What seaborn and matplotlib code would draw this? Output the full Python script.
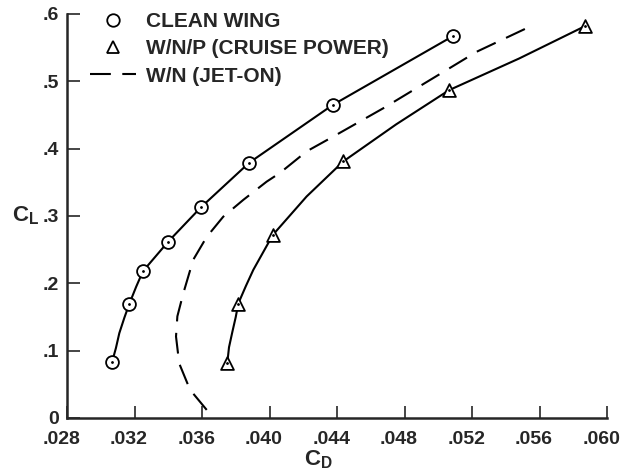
import numpy as np
import pandas as pd
import seaborn as sns
import matplotlib.pyplot as plt
import matplotlib.transforms as mtransforms
from matplotlib.lines import Line2D

# clean wing (circles) - symbol positions
clean_cd = [0.03067, 0.0317, 0.0325, 0.0340, 0.03594, 0.03879, 0.04375, 0.05086]
clean_cl = [0.083, 0.170, 0.218, 0.262, 0.313, 0.379, 0.465, 0.567]
# faired curve through them
clean_path_cd = [0.03067, 0.0309, 0.0311, 0.0314, 0.0317, 0.0321, 0.0325, 0.0340,
                 0.03594, 0.03879, 0.04375, 0.05086]
clean_path_cl = [0.083, 0.104, 0.126, 0.149, 0.170, 0.195, 0.218, 0.262,
                 0.313, 0.379, 0.465, 0.567]

# W/N/P cruise power (triangles)
wnp_cd = [0.0375, 0.03815, 0.0402, 0.04437, 0.05065, 0.0587]
wnp_cl = [0.082, 0.170, 0.272, 0.381, 0.487, 0.582]
wnp_path_cd = [0.0375, 0.0376, 0.0378, 0.0380, 0.03815, 0.0386, 0.03904, 0.0402,
               0.0422, 0.04437, 0.0475, 0.05065, 0.0548, 0.0587]
wnp_path_cl = [0.082, 0.105, 0.128, 0.150, 0.170, 0.196, 0.220, 0.272,
               0.329, 0.381, 0.436, 0.487, 0.534, 0.582]

# W/N jet-on (dashed, no symbols)
jet_cd = [0.03628, 0.03529, 0.03465, 0.03446, 0.03454, 0.03489, 0.03548, 0.03628,
          0.03726, 0.03845, 0.03983, 0.04062, 0.0422, 0.04378, 0.04674, 0.04991,
          0.05228, 0.05524]
jet_cl = [0.012, 0.042, 0.081, 0.121, 0.151, 0.185, 0.235, 0.269,
          0.299, 0.324, 0.351, 0.364, 0.396, 0.418, 0.460, 0.508,
          0.544, 0.579]

x_ticks = [0.028, 0.032, 0.036, 0.040, 0.044, 0.048, 0.052, 0.056, 0.060]
x_labels = [".028", ".032", ".036", ".040", ".044", ".048", ".052", ".056", ".060"]
y_ticks = [0, 0.1, 0.2, 0.3, 0.4, 0.5, 0.6]
y_labels = ["0", ".1", ".2", ".3", ".4", ".5", ".6"]

sns.set_style("ticks")
plt.rcParams['font.family'] = ['Liberation Sans', 'DejaVu Sans']
plt.rcParams['font.weight'] = 'bold'
plt.rcParams['mathtext.fontset'] = 'custom'
plt.rcParams['mathtext.rm'] = 'Liberation Sans:bold'
plt.rcParams['mathtext.it'] = 'Liberation Sans:bold'

fig = plt.figure(figsize=(6.24, 4.75), dpi=100)
ax = fig.add_axes([67 / 624, 57 / 475, 540 / 624, 404 / 475])

clean_line = pd.DataFrame({"cd": clean_path_cd, "cl": clean_path_cl})
wnp_line = pd.DataFrame({"cd": wnp_path_cd, "cl": wnp_path_cl})
clean_pts = pd.DataFrame({"cd": clean_cd, "cl": clean_cl})
wnp_pts = pd.DataFrame({"cd": wnp_cd, "cl": wnp_cl})

sns.lineplot(data=clean_line, x="cd", y="cl", sort=False, estimator=None,
             color="black", lw=1.5, ax=ax)
sns.lineplot(data=wnp_line, x="cd", y="cl", sort=False, estimator=None,
             color="black", lw=1.5, ax=ax)
ax.plot(jet_cd, jet_cl, color="black", lw=1.5, dashes=(10, 5.5))

sns.scatterplot(data=clean_pts, x="cd", y="cl", marker="o", s=85, color="white",
                edgecolor="black", linewidth=1.3, zorder=3, ax=ax)
sns.scatterplot(data=wnp_pts, x="cd", y="cl", marker="^", s=85, color="white",
                edgecolor="black", linewidth=1.3, zorder=3, ax=ax)
# center dots in symbols
ax.plot(clean_cd, clean_cl, ls="none", marker=".", ms=2, color="black", zorder=4)
ax.plot(wnp_cd, wnp_cl, ls="none", marker=".", ms=2, color="black", zorder=4)

ax.set_xlim(0.028, 0.060)
ax.set_ylim(0, 0.6)
ax.set_xticks(x_ticks)
ax.set_xticklabels(x_labels)
ax.set_yticks(y_ticks)
ax.set_yticklabels(y_labels)
ax.tick_params(direction="in", length=9, width=1.2, labelsize=14)
ax.tick_params(axis="x", pad=9)
ax.tick_params(axis="y", pad=6)
for s in ["left", "bottom"]:
    ax.spines[s].set_linewidth(1.8)
sns.despine(ax=ax)

# the printed labels sit a little left of their ticks
shift = mtransforms.ScaledTranslation(-4 / 72, 0, fig.dpi_scale_trans)
for lbl in ax.get_xticklabels():
    lbl.set_transform(lbl.get_transform() + shift)

ax.set_xlabel("")
ax.set_ylabel("")
fig.text(318 / 624, 1 - 460 / 475, r"$\mathrm{C_D}$", fontsize=16, ha="center", va="center")
fig.text(39 / 624, 1 - 216 / 475, r"$\mathrm{C_L}$", fontsize=16, ha="right", va="center")

handles = [
    Line2D([], [], ls="none", marker="o", ms=9, mfc="white", mec="black", mew=1.3),
    Line2D([], [], ls="none", marker="^", ms=9, mfc="white", mec="black", mew=1.3),
    Line2D([], [], color="black", lw=1.5, dashes=(10, 5.5)),
]
labels = ["CLEAN WING", "W/N/P (CRUISE POWER)", "W/N (JET-ON)"]
ax.legend(handles, labels, loc="upper left", bbox_to_anchor=(90 / 624, 1 - 12 / 475),
          bbox_transform=fig.transFigure, frameon=False, fontsize=15,
          handlelength=2.2, handletextpad=0.5, labelspacing=0.4,
          borderpad=0, borderaxespad=0)

fig.savefig("out.png", dpi=100, facecolor="white")
